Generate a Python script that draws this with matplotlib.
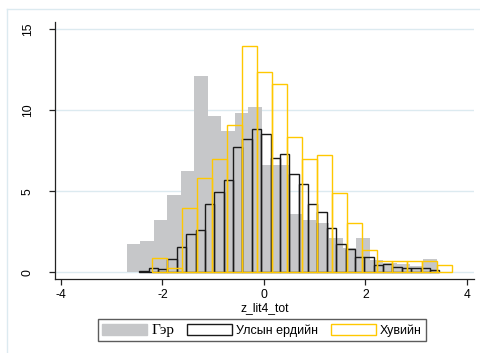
import numpy as np
import matplotlib
matplotlib.use("Agg")
import matplotlib.pyplot as plt
from matplotlib.patches import Patch
from matplotlib.lines import Line2D

# ---- data (density histograms of z_lit4_tot) ----
ger_start, ger_width = -2.705, 0.2658
ger_heights = [1.73, 1.93, 3.23, 4.77, 6.25, 12.12, 9.65, 8.72, 9.81, 10.22,
               6.62, 6.62, 3.60, 3.23, 3.06, 2.10, 1.52, 2.10, 0.76, 0.59,
               0.49, 0.41, 0.80]

uls_start, uls_width = -2.457, 0.1847
uls_heights = [0.10, 0.25, 0.20, 0.80, 1.54, 2.38, 2.61, 4.22, 4.96, 5.68,
               7.75, 8.23, 8.86, 8.52, 7.04, 7.32, 6.05, 5.47, 4.22, 3.70,
               2.75, 1.73, 1.42, 0.93, 0.93, 0.45, 0.53, 0.33, 0.25, 0.25,
               0.25, 0.14]

huv_start, huv_width = -2.201, 0.2956
huv_heights = [0.90, 0.25, 3.95, 5.80, 6.97, 9.07, 13.97, 12.35, 11.62, 8.37,
               6.97, 7.22, 4.88, 3.02, 1.40, 0.70, 0.70, 0.70, 0.70, 0.45]

labels = ["Гэр", "Улсын ердийн", "Хувийн"]
xticks = [-4, -2, 0, 2, 4]
yticks = [0, 5, 10, 15]
xlabel = "z_lit4_tot"

# ---- style ----
plt.rcParams['font.family'] = ['Liberation Sans', 'DejaVu Sans']
GRAY = '#C6C7C9'
BLACK = '#1A1A1A'
GOLD = '#FFC800'
GRID = '#DCEAF0'

W, H = 481, 353
fig = plt.figure(figsize=(W / 100, H / 100), dpi=100)
fig.patch.set_facecolor('white')

# outer light frame (left and top)
fig.add_artist(Line2D([7 / W, 7 / W], [0, 1 - 9 / H], color=GRID, lw=1.0,
                      transform=fig.transFigure))
fig.add_artist(Line2D([7 / W, 1], [1 - 9 / H, 1 - 9 / H], color=GRID, lw=1.0,
                      transform=fig.transFigure))

ax = fig.add_axes([54.7 / W, 1 - 279 / H, (474 - 54.7) / W, (279 - 21.7) / H])

def edges(start, width, n):
    return start + width * np.arange(n)

ax.bar(edges(ger_start, ger_width, len(ger_heights)), ger_heights,
       width=ger_width, align='edge', color=GRAY, edgecolor='none',
       linewidth=0, zorder=2)
ax.bar(edges(uls_start, uls_width, len(uls_heights)), uls_heights,
       width=uls_width, align='edge', facecolor='none', edgecolor=BLACK,
       linewidth=1.0, zorder=3)
ax.bar(edges(huv_start, huv_width, len(huv_heights)), huv_heights,
       width=huv_width, align='edge', facecolor='none', edgecolor=GOLD,
       linewidth=1.0, zorder=4)

ax.set_xlim(-4.124, 4.138)
ax.set_ylim(-0.41, 15.47)
ax.set_xticks(xticks)
ax.set_xticklabels([str(t) for t in xticks])
ax.set_yticks(yticks)
ax.set_yticklabels([str(t) for t in yticks])
ax.yaxis.grid(True, color=GRID, linewidth=1.0, zorder=0)
ax.set_axisbelow(True)

for s in ['top', 'right']:
    ax.spines[s].set_visible(False)
for s in ['left', 'bottom']:
    ax.spines[s].set_color('#222222')
    ax.spines[s].set_linewidth(0.9)

ax.tick_params(axis='y', direction='out', length=4, width=0.9,
               labelsize=8.7, pad=11, labelrotation=90, color='#222222')
ax.tick_params(axis='x', direction='out', length=4, width=0.9,
               labelsize=8.7, pad=3, color='#222222')
for lab in ax.get_yticklabels():
    lab.set_va('center')
ax.set_xlabel(xlabel, fontsize=8.7, labelpad=1)

handles = [Patch(facecolor=GRAY, edgecolor=GRAY),
           Patch(facecolor='white', edgecolor=BLACK, linewidth=1.0),
           Patch(facecolor='white', edgecolor=GOLD, linewidth=1.0)]
leg = fig.legend(handles, labels, loc='upper left',
                 bbox_to_anchor=(97.7 / W, 1 - 319.3 / H), borderaxespad=0,
                 ncol=3, fontsize=9, frameon=True, fancybox=False,
                 handlelength=3.6, handleheight=0.95, handletextpad=0.35,
                 columnspacing=1.0, borderpad=0.35)
leg.get_frame().set_edgecolor('#333333')
leg.get_frame().set_linewidth(1.0)
leg.get_texts()[0].set_fontfamily(['Liberation Serif', 'DejaVu Serif'])
leg.get_texts()[0].set_fontsize(11)

fig.savefig('out.png', dpi=100)
